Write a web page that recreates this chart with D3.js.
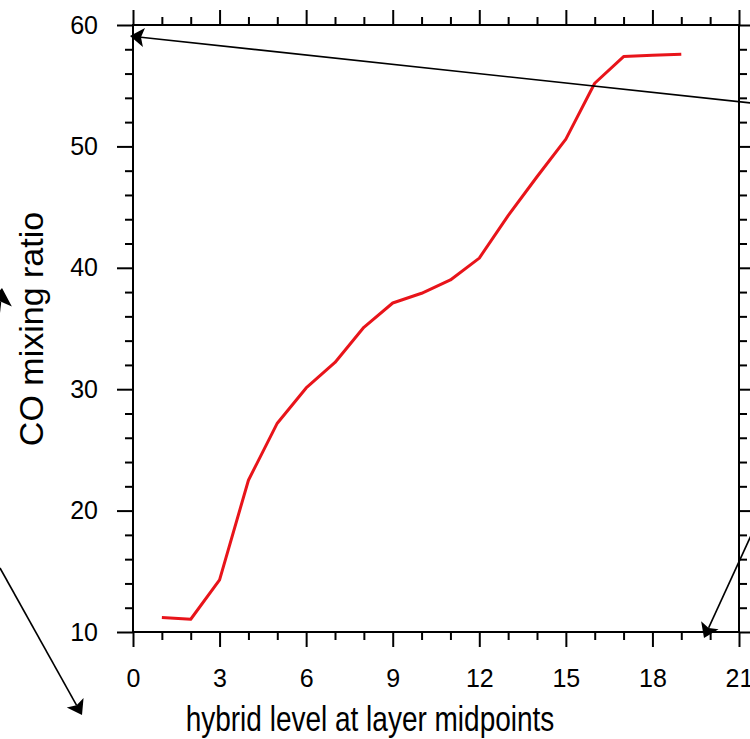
<!DOCTYPE html>
<html>
<head>
<meta charset="utf-8">
<script src="https://cdn.jsdelivr.net/npm/d3@7"></script>
<style>
  body { margin: 0; background: #fff; }
  svg { display: block; font-family: "Liberation Sans", Arial, Helvetica, sans-serif; }
</style>
</head>
<body>
<svg id="chart" width="750" height="739"></svg>
<script>
// data
const levels = [1, 2, 3, 4, 5, 6, 7, 8, 9, 10, 11, 12, 13, 14, 15, 16, 17, 18, 19];
const coValues = [11.2, 11.05, 14.3, 22.5, 27.2, 30.1, 32.2, 35.1, 37.1, 37.9, 39.0, 40.8, 44.3, 47.5, 50.6, 55.2, 57.4, 57.5, 57.6];
const xMajorTicks = [0, 3, 6, 9, 12, 15, 18, 21];
const yMajorTicks = [10, 20, 30, 40, 50, 60];

const svg = d3.select("svg#chart");
const margin = { top: 25, right: 11, bottom: 107, left: 133 };
const width = +svg.attr("width");
const height = +svg.attr("height");
const chartWidth = width - margin.left - margin.right;
const chartHeight = height - margin.top - margin.bottom;

const xScale = d3.scaleLinear().domain([0, 21]).range([0, chartWidth]);
const yScale = d3.scaleLinear().domain([10, 60]).range([chartHeight, 0]);

const chartArea = svg.append("g")
    .attr("transform", `translate(${margin.left},${margin.top})`);

const xMinor = d3.range(0, 22, 1).filter(v => v % 3 !== 0);
const yMinor = d3.range(10, 61, 2).filter(v => v % 10 !== 0);

function styleAxis(g) {
    g.select(".domain").remove();
    g.selectAll(".tick line").attr("stroke", "#000").attr("stroke-width", 2);
    g.selectAll(".tick text").attr("fill", "#000").attr("font-size", 25).attr("font-family", "Liberation Sans, Arial, sans-serif");
}

// bottom
chartArea.append("g").attr("transform", `translate(0,${chartHeight})`)
    .call(d3.axisBottom(xScale).tickValues(xMajorTicks).tickSize(15).tickPadding(22).tickFormat(d3.format("d")))
    .call(styleAxis);
chartArea.append("g").attr("transform", `translate(0,${chartHeight})`)
    .call(d3.axisBottom(xScale).tickValues(xMinor).tickSize(8).tickFormat(""))
    .call(styleAxis);
// top
chartArea.append("g")
    .call(d3.axisTop(xScale).tickValues(xMajorTicks).tickSize(15).tickFormat(""))
    .call(styleAxis);
chartArea.append("g")
    .call(d3.axisTop(xScale).tickValues(xMinor).tickSize(8).tickFormat(""))
    .call(styleAxis);
// left
chartArea.append("g")
    .call(d3.axisLeft(yScale).tickValues(yMajorTicks).tickSize(16).tickPadding(19).tickFormat(d3.format("d")))
    .call(styleAxis);
chartArea.append("g")
    .call(d3.axisLeft(yScale).tickValues(yMinor).tickSize(8).tickFormat(""))
    .call(styleAxis);
// right
chartArea.append("g").attr("transform", `translate(${chartWidth},0)`)
    .call(d3.axisRight(yScale).tickValues(yMajorTicks).tickSize(15).tickFormat(""))
    .call(styleAxis);
chartArea.append("g").attr("transform", `translate(${chartWidth},0)`)
    .call(d3.axisRight(yScale).tickValues(yMinor).tickSize(8).tickFormat(""))
    .call(styleAxis);

// frame
chartArea.append("rect")
    .attr("x", 0).attr("y", 0)
    .attr("width", chartWidth).attr("height", chartHeight)
    .attr("fill", "none").attr("stroke", "#000").attr("stroke-width", 2);

// the CO profile
const line = d3.line()
    .x((d, i) => xScale(levels[i]))
    .y(d => yScale(d));
chartArea.append("path")
    .datum(coValues)
    .attr("d", line)
    .attr("fill", "none")
    .attr("stroke", "#e8141a")
    .attr("stroke-width", 3)
    .attr("stroke-linejoin", "round");

// axis titles
svg.append("text")
    .attr("transform", "translate(370,731) scale(1,1.22)")
    .attr("text-anchor", "middle")
    .attr("font-size", 28)
    .text("hybrid level at layer midpoints");
svg.append("text")
    .attr("transform", "translate(43,329) rotate(-90)")
    .attr("text-anchor", "middle")
    .attr("font-size", 34)
    .text("CO mixing ratio");

// annotation arrows (page coordinates)
const arrows = [
    { from: [760, 104], to: [130, 36], len: 17 },
    { from: [-6, 360], to: [2, 288], len: 21 },
    { from: [0, 568], to: [82, 715], len: 17 },
    { from: [760, 516], to: [704, 638], len: 17 }
];
const annotations = svg.append("g").attr("id", "annotations");
arrows.forEach(a => {
    const [x1, y1] = a.from, [x2, y2] = a.to;
    const ang = Math.atan2(y2 - y1, x2 - x1);
    const len = a.len, back = a.len * 0.65, wing = 0.6;
    annotations.append("line")
        .attr("x1", x1).attr("y1", y1)
        .attr("x2", x2 - Math.cos(ang) * back).attr("y2", y2 - Math.sin(ang) * back)
        .attr("stroke", "#000").attr("stroke-width", 1.6);
    const p = [
        [x2, y2],
        [x2 - len * Math.cos(ang - wing), y2 - len * Math.sin(ang - wing)],
        [x2 - back * Math.cos(ang), y2 - back * Math.sin(ang)],
        [x2 - len * Math.cos(ang + wing), y2 - len * Math.sin(ang + wing)]
    ];
    annotations.append("path")
        .attr("d", "M" + p.map(q => q.join(",")).join("L") + "Z")
        .attr("fill", "#000");
});
</script>
</body>
</html>
